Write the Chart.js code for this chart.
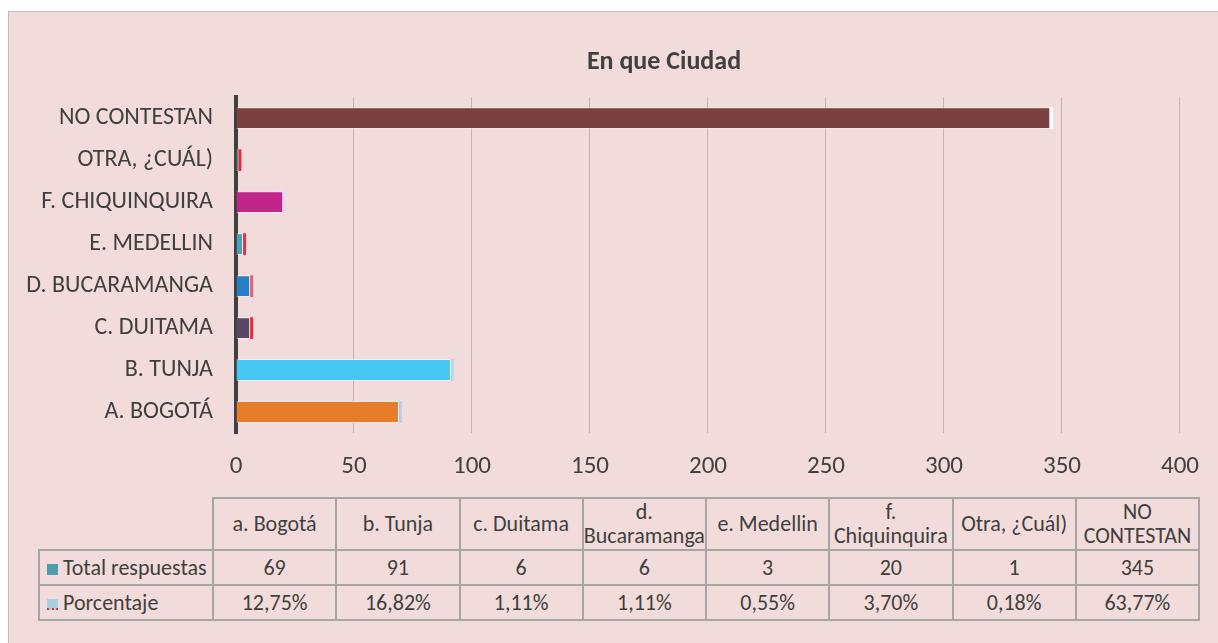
<!DOCTYPE html>
<html lang="es">
<head>
<meta charset="utf-8">
<title>En que Ciudad</title>
<script src="https://cdn.jsdelivr.net/npm/chart.js@4"></script>
<style>
    html, body { margin: 0; padding: 0; background: #ffffff; }
    body { width: 1218px; height: 643px; overflow: hidden; position: relative; font-family: Carlito, Lato, sans-serif; }
    #frame {
        position: absolute; left: 8px; top: 11px; width: 1220px; height: 640px;
        background: #f2dcdb; border-left: 1px solid #c3bcbc; border-top: 1px solid #c3bcbc;
        box-sizing: border-box;
    }
    #cityChart { position: absolute; left: 8px; top: 11px; }
    #dataTable {
        position: absolute; left: 38px; top: 497px; width: 1162px;
        border-collapse: collapse; table-layout: fixed;
        color: #404040; font-size: 22px; line-height: 24px;
    }
    #dataTable td { border: 2px solid #a6a6a6; text-align: center; padding: 0; }
    #dataTable tr.head td { height: 50px; }
    #dataTable tr.row td { height: 33px; }
    #dataTable td.corner { border-top: none; border-left: none; }
    #dataTable td.name { text-align: left; padding-left: 7px; white-space: nowrap; }
    .key { display: inline-block; width: 11px; height: 11px; margin-right: 5px; vertical-align: 0px; }
    .key.total { background: #4e9daf; }
    .key.pct { background: #a9cfe0; border-bottom: 2px dotted #e0303a; height: 9px; }
</style>
</head>
<body>
<div id="frame"></div>
<canvas id="cityChart" width="1210" height="480"></canvas>
<table id="dataTable"></table>

<script>
// --------------------
// Data
// --------------------
const categories = ['a. Bogotá', 'b. Tunja', 'c. Duitama', 'd. Bucaramanga', 'e. Medellin', 'f. Chiquinquira', 'Otra, ¿Cuál)', 'NO CONTESTAN'];
const totalRespuestas = [69, 91, 6, 6, 3, 20, 1, 345];
const porcentaje = [12.75, 16.82, 1.11, 1.11, 0.55, 3.70, 0.18, 63.77]; // in %
const seriesNames = ['Total respuestas', 'Porcentaje'];
const xMax = 400;
const xStep = 50;

const barColors = ['#e67d2b', '#44c8f2', '#594766', '#2a80c8', '#4ba3b8', '#c1258a', '#4ba3b8', '#7b4141'];
const capColors = ['#b8cfe8', '#b6d6f0', '#e8283c', '#e0607a', '#e03442', '#e6d6f0', '#e02a36', '#ffffff'];

const textColor = '#404040';
const fontFamily = 'Carlito, Lato, sans-serif';

const fmtPct = v => v.toFixed(2).replace('.', ',') + '%';

// title is centred between this x and the right edge, not over the full canvas
const titleOffset = {
    id: 'titleOffset',
    afterLayout(chart) {
        if (chart.titleBlock) chart.titleBlock.left = 137;
    }
};

// --------------------
// Bar chart
// --------------------
function renderChart() {
    const ctx = document.getElementById('cityChart').getContext('2d');
    new Chart(ctx, {
        type: 'bar',
        data: {
            labels: categories,
            datasets: [
                {
                    label: seriesNames[0],
                    data: totalRespuestas,
                    backgroundColor: barColors,
                    borderColor: 'rgba(255,255,255,0.45)',
                    borderWidth: 1,
                    barPercentage: 0.52,
                    categoryPercentage: 1
                },
                {
                    // percentages are tiny next to the counts, so they sit as a thin cap
                    label: seriesNames[1],
                    data: porcentaje.map(p => p / 100),
                    backgroundColor: capColors,
                    borderWidth: 0,
                    minBarLength: 3,
                    barPercentage: 0.52,
                    categoryPercentage: 1
                }
            ]
        },
        options: {
            indexAxis: 'y',
            responsive: false,
            animation: false,
            layout: { padding: { top: 36, right: 35, bottom: 0, left: 0 } },
            plugins: {
                legend: { display: false },
                tooltip: { enabled: false },
                title: {
                    display: true,
                    text: 'En que Ciudad',
                    color: textColor,
                    font: { family: fontFamily, size: 26, weight: 'bold' },
                    padding: { top: 0, bottom: 19 }
                }
            },
            scales: {
                x: {
                    stacked: true,
                    min: 0,
                    max: xMax,
                    ticks: {
                        stepSize: xStep,
                        color: textColor,
                        padding: 19,
                        font: { family: fontFamily, size: 25 }
                    },
                    grid: { color: 'rgba(150,125,125,0.45)', lineWidth: 1, drawTicks: false },
                    border: { display: false },
                    afterFit: s => { s.height = 58; }
                },
                y: {
                    stacked: true,
                    reverse: true,
                    ticks: {
                        color: textColor,
                        padding: 23,
                        font: { family: fontFamily, size: 24 },
                        callback: (value) => categories[value].toUpperCase()
                    },
                    grid: { display: false, drawTicks: false },
                    border: { display: true, color: '#404040', width: 4 },
                    afterFit: s => { s.width = 228; }
                }
            }
        },
        plugins: [titleOffset]
    });
}

// --------------------
// Data table under the chart
// --------------------
function renderTable() {
    const table = document.getElementById('dataTable');
    let html = '<colgroup><col style="width:174px">';
    categories.forEach(() => { html += '<col>'; });
    html += '</colgroup>';

    html += '<tr class="head"><td class="corner"></td>';
    categories.forEach(c => { html += `<td>${c}</td>`; });
    html += '</tr>';

    html += `<tr class="row"><td class="name"><span class="key total"></span>${seriesNames[0]}</td>`;
    totalRespuestas.forEach(v => { html += `<td>${v}</td>`; });
    html += '</tr>';

    html += `<tr class="row"><td class="name"><span class="key pct"></span>${seriesNames[1]}</td>`;
    porcentaje.forEach(v => { html += `<td>${fmtPct(v)}</td>`; });
    html += '</tr>';

    table.innerHTML = html;
}

renderChart();
renderTable();
</script>
</body>
</html>
